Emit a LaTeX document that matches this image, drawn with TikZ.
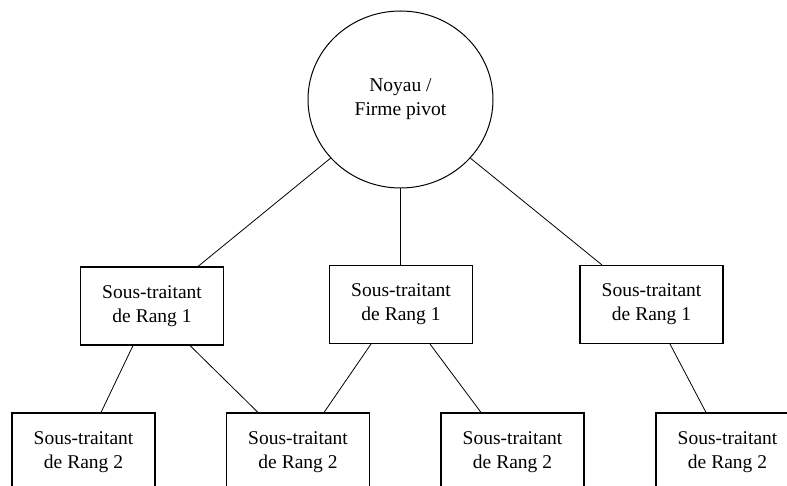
\documentclass[tikz,border=0pt]{standalone}
\usepackage{fontspec}
\setmainfont{Liberation Serif}
\usetikzlibrary{shapes.geometric}
\begin{document}
\begin{tikzpicture}[x=1pt,y=-1pt,
  lbl/.style={font=\fontsize{19.5}{24}\selectfont, align=center, inner sep=0pt},
  boxnode/.style={lbl, draw, line width=1.1pt, minimum width=143pt, minimum height=78pt},
  hub/.style={lbl, draw, ellipse, line width=1pt, minimum width=185pt, minimum height=177pt},
  link/.style={line width=0.8pt}]
\useasboundingbox (0,0) rectangle (787,486);
\clip (0,0) rectangle (787,486);
\node[hub] (c) at (400.5,99.5) {Noyau /\\Firme pivot};
\node[boxnode] (r1a) at (152,306) {Sous-traitant\\de Rang 1};
\node[boxnode] (r1b) at (401,304.5) {Sous-traitant\\de Rang 1};
\node[boxnode] (r1c) at (651.5,304.5) {Sous-traitant\\de Rang 1};
\node[boxnode] (r2a) at (83.5,452) {Sous-traitant\\de Rang 2};
\node[boxnode] (r2b) at (298,452) {Sous-traitant\\de Rang 2};
\node[boxnode] (r2c) at (512.5,452) {Sous-traitant\\de Rang 2};
\node[boxnode] (r2d) at (727.5,452) {Sous-traitant\\de Rang 2};
\draw[link] (c.220) -- ([xshift=46pt]r1a.north);
\draw[link] (c.south) -- (c.south |- r1b.north);
\draw[link] (c.320) -- ([xshift=-49.5pt]r1c.north);
\draw[link] ([xshift=-19pt]r1a.south) -- ([xshift=17.5pt]r2a.north);
\draw[link] ([xshift=38pt]r1a.south) -- ([xshift=-40pt]r2b.north);
\draw[link] ([xshift=-30pt]r1b.south) -- ([xshift=26pt]r2b.north);
\draw[link] ([xshift=29pt]r1b.south) -- ([xshift=-31.5pt]r2c.north);
\draw[link] ([xshift=18.5pt]r1c.south) -- ([xshift=-21.5pt]r2d.north);
\end{tikzpicture}
\end{document}
